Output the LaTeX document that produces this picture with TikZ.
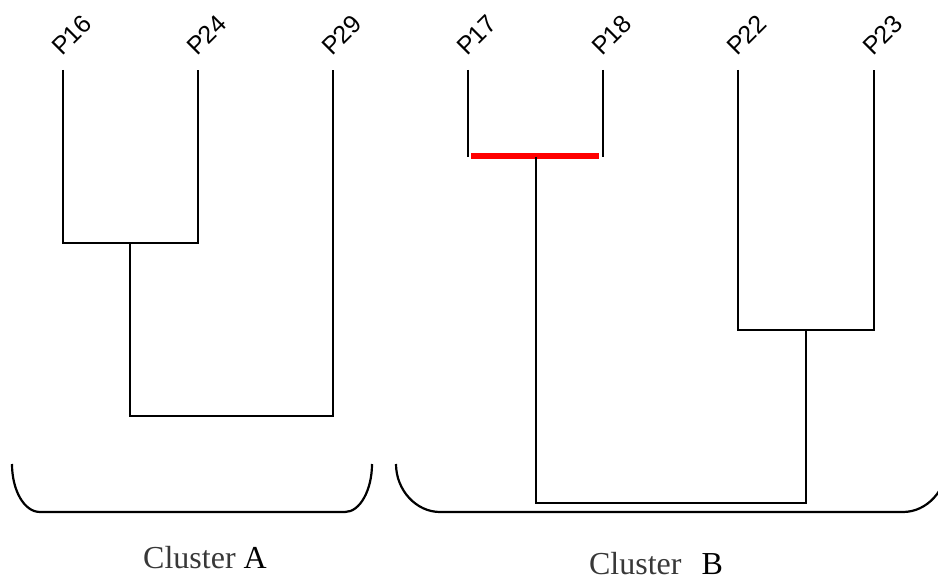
\documentclass[tikz,border=0pt]{standalone}
\usepackage{fontspec}
\setmainfont{Liberation Serif}
\newfontfamily\leaffont{Liberation Sans}
\begin{document}
\begin{tikzpicture}[x=1pt,y=-1pt,
  link/.style={line width=1.6pt,black},
  brace/.style={line width=2.2pt,black},
  leaf/.style={rotate=45,anchor=base west,inner sep=0pt,font=\leaffont\fontsize{25}{25}\selectfont},
  clab/.style={anchor=base,inner sep=0pt,text=black!78,font=\fontsize{32}{32}\selectfont}]
\useasboundingbox (0,0) rectangle (938,580);
% leaf tips
\coordinate (p16) at (63,70);  \coordinate (p24) at (198,70); \coordinate (p29) at (333,70);
\coordinate (p17) at (468,70); \coordinate (p18) at (603,70);
\coordinate (p22) at (738,70); \coordinate (p23) at (874,70);
% leaf labels
\foreach \n in {16,24,29,17,18,22,23}
  \node[leaf] (l\n) at ([xshift=-1pt,yshift=13pt]p\n) {P\n};
% cluster A
\coordinate (a1) at (130,243);
\coordinate (a2) at (232,416);
\draw[link] (p16) |- (a1) -| (p24);
\draw[link] (a1) |- (a2) -| (p29);
% cluster B
\coordinate (b1) at (536,157);
\coordinate (b2) at (806,330);
\coordinate (b3) at (671,503);
\draw[link] (p17) -- (p17 |- b1);
\draw[link] (p18) -- (p18 |- b1);
\draw[line width=6pt,red] (471,156) -- (599,156);
\draw[link] (p22) |- (b2) -| (p23);
\draw[link] (b1) |- (b3) -| (b2);
% braces under the two clusters
\draw[brace] (12,464) .. controls (12,490) and (24,512) .. (40,512)
  -- (345,512) .. controls (360,512) and (372,490) .. (372,464);
\draw[brace] (396,464) .. controls (396,490) and (416,512) .. (440,512)
  -- (903,512) .. controls (927,512) and (947,490) .. (947,464);
% cluster captions
\node[clab] (ca) at (205,568) {Cluster \textcolor{black}{A}};
\node[clab] (cb) at (656,574) {Cluster\hspace{12pt} \textcolor{black}{B}};
\end{tikzpicture}
\end{document}
